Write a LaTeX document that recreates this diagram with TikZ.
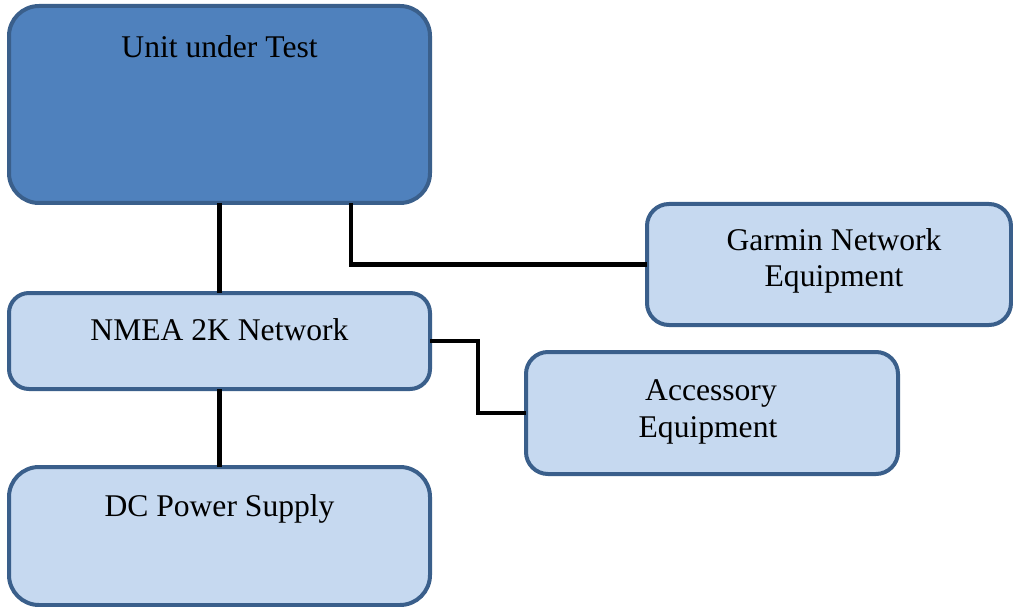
\documentclass[tikz,border=0pt]{standalone}
\usepackage{fontspec}
\setmainfont{Liberation Serif}[Ligatures=TeX]
\newfontfamily\timesfont{Liberation Serif}
\definecolor{darkfill}{HTML}{4F81BD}
\definecolor{lightfill}{HTML}{C6D9F0}
\definecolor{edge}{HTML}{3A5F8B}
\begin{document}
\begin{tikzpicture}[x=1pt,y=-1pt,
  box/.style={draw=edge, line width=4pt, rectangle, inner sep=0pt, outer sep=0pt},
  txt/.style={anchor=base, inner sep=0pt, font=\timesfont\fontsize{31.6}{36}\selectfont},
  wire/.style={draw=black, line width=4.5pt}]
\useasboundingbox (0,0) rectangle (1013,607);
\node[box, fill=darkfill, rounded corners=30pt, minimum width=421pt, minimum height=197pt] (uut) at (219.5,104.5) {};
\node[box, fill=lightfill, rounded corners=22pt, minimum width=364pt, minimum height=121pt] (garmin) at (829,264.5) {};
\node[box, fill=lightfill, rounded corners=20pt, minimum width=421pt, minimum height=96pt] (nmea) at (219.5,341) {};
\node[box, fill=lightfill, rounded corners=22pt, minimum width=372pt, minimum height=122pt] (acc) at (712,413) {};
\node[box, fill=lightfill, rounded corners=30pt, minimum width=421pt, minimum height=138pt] (dc) at (219.5,536) {};
\node[txt] (uutT) at (219.5,58) {Unit under Test};
\node[txt] (garminT1) at (834,251) {Garmin Network};
\node[txt] (garminT2) at (834,287) {Equipment};
\node[txt] (nmeaT) at (219.5,340) {NMEA 2K Network};
\node[txt] (accT1) at (711,400) {Accessory};
\node[txt] (accT2) at (708,437) {Equipment};
\node[txt] (dcT) at (219.5,516) {DC Power Supply};
\draw[wire] (uut.south) -- (nmea.north);
\draw[wire] (nmea.south) -- (dc.north);
\draw[wire] (uut.south) ++(131.5,0) |- (garmin.west);
\draw[wire] (nmea.east) -- ++(48,0) |- (acc.west);
\end{tikzpicture}
\end{document}
